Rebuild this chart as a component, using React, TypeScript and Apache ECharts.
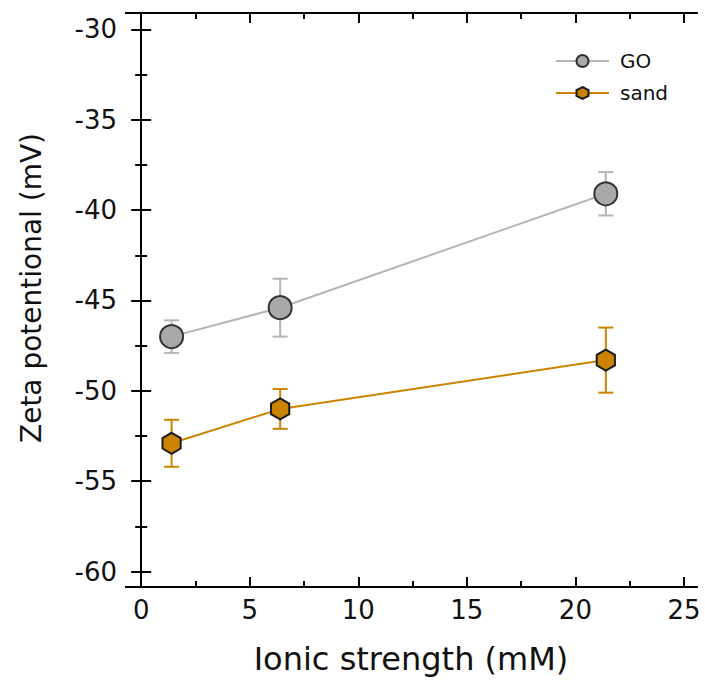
import React, { useEffect, useRef } from "react";
import * as echarts from "echarts";

const ionicStrength = [1.4, 6.4, 21.4];
const goZeta = [-47.0, -45.4, -39.1];
const goErr = [0.9, 1.6, 1.2];
const sandZeta = [-52.9, -51.0, -48.3];
const sandErr = [1.3, 1.1, 1.8];

const xMajor = [0, 5, 10, 15, 20, 25];
const xMinor = [2.5, 7.5, 12.5, 17.5, 22.5];
const yMajor = [-60, -55, -50, -45, -40, -35, -30];
const yMinor = [-57.5, -52.5, -47.5, -42.5, -37.5, -32.5];

const xTitle = "Ionic strength (mM)";
const yTitle = "Zeta potentional (mV)";

const FONT = "DejaVu Sans";
const GO_LINE = "#b5b5b5";
const GO_FILL = "#a9a9a9";
const SAND = "#cc8400";
const HEX = "path://M0,-10L8.66,-5L8.66,5L0,10L-8.66,5L-8.66,-5Z";

export default function App() {
  const ref = useRef<HTMLDivElement>(null);
  useEffect(() => {
    if (!ref.current) return;
    const chart = echarts.init(ref.current, null, { renderer: "svg" });

    const axisLine = { show: true, lineStyle: { color: "#000", width: 2 } };
    const mkX = (pos: string, vals: number[], len: number, labels: boolean) => ({
      type: "value",
      position: pos,
      min: -0.7,
      max: 25.6,
      axisLine,
      splitLine: { show: false },
      axisTick: { show: true, inside: true, length: len, customValues: vals, lineStyle: { color: "#000", width: 2 } },
      axisLabel: labels
        ? { show: true, customValues: vals, fontSize: 26, fontFamily: FONT, color: "#111", margin: 10 }
        : { show: false },
    });
    const mkY = (pos: string, vals: number[], len: number, labels: boolean) => ({
      type: "value",
      position: pos,
      min: -60.85,
      max: -29.1,
      axisLine,
      splitLine: { show: false },
      axisTick: { show: true, inside: true, length: len, customValues: vals, lineStyle: { color: "#000", width: 2 } },
      axisLabel: labels
        ? { show: true, customValues: vals, fontSize: 26, fontFamily: FONT, color: "#111", margin: 9 }
        : { show: false },
    });

    const errData = (ys: number[], es: number[]) =>
      ionicStrength.map((x, i) => [x, ys[i] - es[i], ys[i] + es[i]]);

    const errSeries = (name: string, ys: number[], es: number[], color: string) => ({
      type: "custom",
      name: name + "-err",
      xAxisIndex: 0,
      yAxisIndex: 0,
      z: 1,
      silent: true,
      data: errData(ys, es),
      renderItem: (params: any, api: any) => {
        const x = api.value(0);
        const lo = api.coord([x, api.value(1)]);
        const hi = api.coord([x, api.value(2)]);
        const cap = 7.5;
        const style = { stroke: color, lineWidth: 2 };
        return {
          type: "group",
          children: [
            { type: "line", shape: { x1: lo[0], y1: lo[1], x2: hi[0], y2: hi[1] }, style },
            { type: "line", shape: { x1: lo[0] - cap, y1: lo[1], x2: lo[0] + cap, y2: lo[1] }, style },
            { type: "line", shape: { x1: hi[0] - cap, y1: hi[1], x2: hi[0] + cap, y2: hi[1] }, style },
          ],
        };
      },
    });

    chart.setOption({
      animation: false,
      backgroundColor: "#fff",
      grid: { left: 126, top: 13, right: 8, bottom: 94, containLabel: false },
      xAxis: [
        mkX("bottom", xMajor, 10, true),
        mkX("bottom", xMinor, 6, false),
        mkX("top", xMajor, 10, false),
        mkX("top", xMinor, 6, false),
      ],
      yAxis: [
        mkY("left", yMajor, 10, true),
        mkY("left", yMinor, 6, false),
        mkY("right", yMajor, 10, false),
        mkY("right", yMinor, 6, false),
      ],
      legend: {
        orient: "vertical",
        left: 555,
        top: 51,
        padding: 0,
        itemWidth: 53,
        itemHeight: 15,
        itemGap: 12,
        data: ["GO", "sand"],
        textStyle: { fontFamily: FONT, fontSize: 20, color: "#111", padding: [0, 0, 0, 6] },
      },
      graphic: [
        {
          type: "text",
          x: 31,
          y: 288,
          rotation: Math.PI / 2,
          style: {
            text: yTitle,
            fontFamily: FONT,
            fontSize: 28,
            fill: "#111",
            textAlign: "center",
            textVerticalAlign: "middle",
          },
        },
        {
          type: "text",
          x: 411,
          y: 659,
          style: {
            text: xTitle,
            fontFamily: FONT,
            fontSize: 32,
            fill: "#111",
            textAlign: "center",
            textVerticalAlign: "middle",
          },
        },
      ],
      series: [
        errSeries("GO", goZeta, goErr, GO_LINE),
        errSeries("sand", sandZeta, sandErr, SAND),
        {
          type: "line",
          name: "GO",
          xAxisIndex: 0,
          yAxisIndex: 0,
          z: 3,
          data: ionicStrength.map((x, i) => [x, goZeta[i]]),
          symbol: "circle",
          symbolSize: 23,
          lineStyle: { color: GO_LINE, width: 2 },
          itemStyle: { color: GO_FILL, borderColor: "#333", borderWidth: 2 },
        },
        {
          type: "line",
          name: "sand",
          xAxisIndex: 0,
          yAxisIndex: 0,
          z: 3,
          data: ionicStrength.map((x, i) => [x, sandZeta[i]]),
          symbol: HEX,
          symbolSize: 21,
          symbolKeepAspect: true,
          lineStyle: { color: SAND, width: 2 },
          itemStyle: { color: SAND, borderColor: "#1a1a1a", borderWidth: 2 },
        },
      ],
    });
    return () => chart.dispose();
  }, []);
  return (
    <div
      ref={ref}
      style={{ position: "fixed", left: 0, top: 0, width: 705, height: 681, background: "#fff" }}
    />
  );
}
